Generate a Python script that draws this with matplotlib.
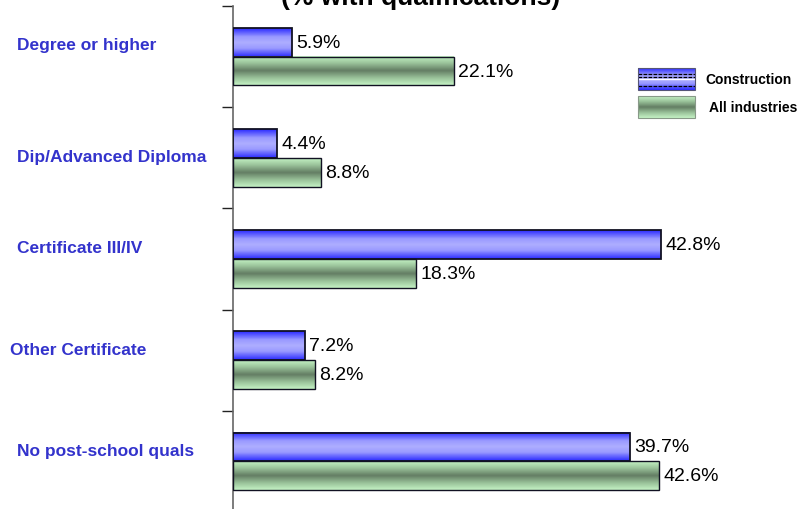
import numpy as np
import matplotlib
matplotlib.use("Agg")
import matplotlib.pyplot as plt
import matplotlib.transforms as mtrans
from matplotlib.colors import LinearSegmentedColormap
from matplotlib.patches import Rectangle

categories = ["Degree or higher", "Dip/Advanced Diploma", "Certificate III/IV",
              "Other Certificate", "No post-school quals"]
construction = [5.9, 4.4, 42.8, 7.2, 39.7]
all_industries = [22.1, 8.8, 18.3, 8.2, 42.6]
series_names = ["Construction", "All industries"]

plt.rcParams['font.family'] = ['Liberation Sans', 'DejaVu Sans']

blue_cm = LinearSegmentedColormap.from_list(
    "bl", [(0, "#2a2aff"), (0.3, "#9a9aff"), (0.5, "#aeaeff"), (0.7, "#9a9aff"), (1, "#2a2aff")])
green_cm = LinearSegmentedColormap.from_list(
    "gr", [(0, "#c4f2c4"), (0.25, "#98c098"), (0.5, "#637d63"), (0.75, "#98c098"), (1, "#c4f2c4")])
grad = np.linspace(0, 1, 64).reshape(-1, 1)

fig = plt.figure(figsize=(8.04, 5.10), dpi=100)
ax = fig.add_axes([233/804, -3/510, 500/804, 506/510])

h = 0.285
y = np.arange(len(categories))

def gbar(x, yc, cmap, lw):
    ax.imshow(grad, cmap=cmap, aspect='auto', extent=(0, x, yc + h/2, yc - h/2),
              interpolation='bilinear', zorder=2)
    ax.add_patch(Rectangle((0, yc - h/2), x, h, fill=False, edgecolor='#111122',
                           lw=lw, zorder=3))

for i in range(len(categories)):
    gbar(construction[i], y[i] - h/2, blue_cm, 1.3)
    gbar(all_industries[i], y[i] + h/2, green_cm, 1.0)
    ax.text(construction[i] + 0.45, y[i] - h/2, f"{construction[i]:.1f}%",
            va='center', ha='left', fontsize=14)
    ax.text(all_industries[i] + 0.45, y[i] + h/2, f"{all_industries[i]:.1f}%",
            va='center', ha='left', fontsize=14)

ax.set_xlim(0, 50)
ax.set_ylim(len(categories) - 0.5, -0.5)
ax.set_yticks(np.arange(-0.5, len(categories) + 0.5, 1.0))
ax.set_yticklabels([])
ax.set_xticks([])
ax.tick_params(axis='y', direction='out', length=8, width=1, color='#222222')
for s in ['top', 'right', 'bottom']:
    ax.spines[s].set_visible(False)
ax.spines['left'].set_color('#666666')
ax.spines['left'].set_linewidth(1.2)

# category labels: x in figure coords, y in data coords
lab_tr = mtrans.blended_transform_factory(fig.transFigure, ax.transData)
label_dy = [-0.12, -0.01, -0.11, -0.11, -0.11]
label_x = [17, 17, 17, 10, 17]
for i, c in enumerate(categories):
    ax.text(label_x[i] / 804, y[i] + label_dy[i], c, transform=lab_tr,
            fontsize=12.5, fontweight='bold', color='#3333CC', va='center', ha='left')

# title sits mostly above the top edge, as in the source
fig.text(0.523, 0.990, "(% with qualifications)", ha='center', va='baseline',
         fontsize=19, fontweight='bold')

# legend
lax = fig.add_axes([0, 0, 1, 1])
lax.set_xlim(0, 804)
lax.set_ylim(510, 0)
lax.axis('off')
lax.patch.set_alpha(0)
lax.imshow(grad, cmap=blue_cm, aspect='auto', extent=(638, 695, 91, 69), zorder=2)
for yy in [75, 77.5, 87]:
    lax.plot([638, 695], [yy, yy], color='black', lw=0.9, ls=(0, (3, 1)), zorder=3)
lax.plot([638, 695], [80, 80], color='white', lw=1.0, zorder=3)
lax.add_patch(Rectangle((638, 69), 57, 22, fill=False, edgecolor='#555577', lw=0.8, zorder=3))
lax.imshow(grad, cmap=green_cm, aspect='auto', extent=(638, 695, 119, 97), zorder=2)
lax.add_patch(Rectangle((638, 97), 57, 22, fill=False, edgecolor='#889988', lw=0.8, zorder=3))
lax.text(705, 80, series_names[0], fontsize=10, fontweight='bold', va='center', ha='left')
lax.text(709, 108, series_names[1], fontsize=10, fontweight='bold', va='center', ha='left')

fig.savefig("out.png", dpi=100)
